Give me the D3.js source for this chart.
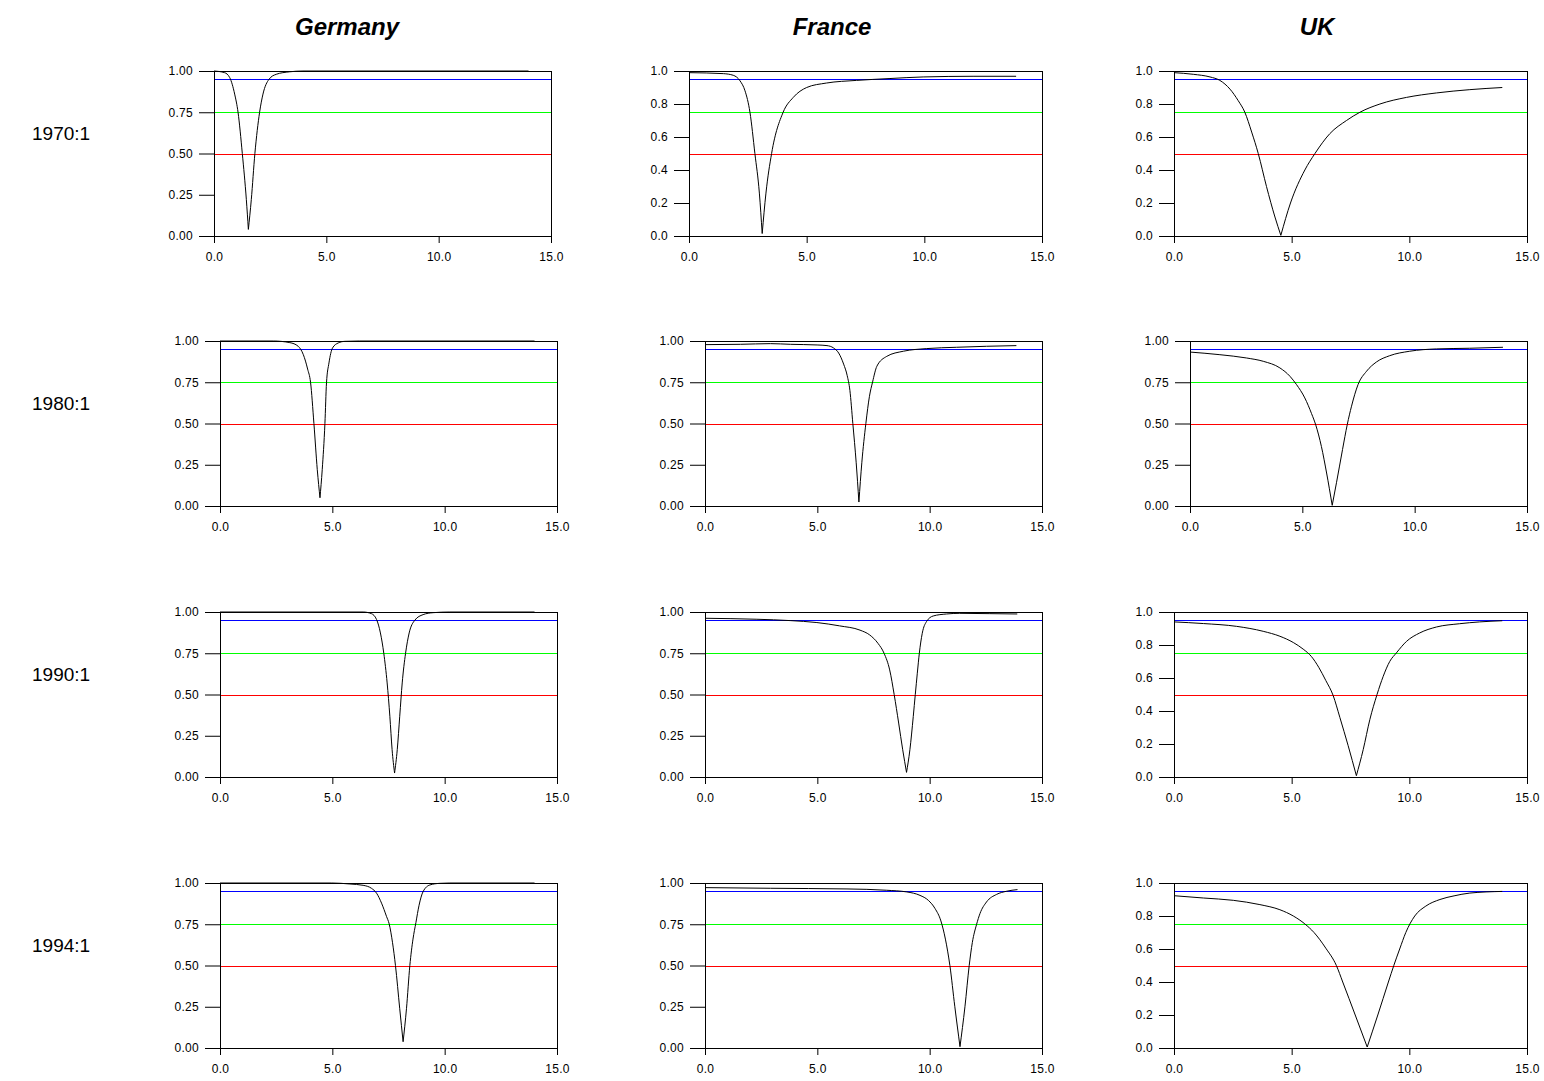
<!DOCTYPE html>
<html lang="en">

<head>
    <meta charset="utf-8" />
    <title>Bandwidth panels</title>
    <script type="text/javascript" src="https://cdn.jsdelivr.net/npm/d3@7"></script>
    <style type="text/css">
        body {
            margin: 0;
            background: white;
        }
        svg text {
            font-family: "Liberation Sans", Arial, sans-serif;
        }
    </style>
</head>

<body>
    <script type="text/javascript">
        var countries = ["Germany", "France", "UK"];
        var periods = ["1970:1", "1980:1", "1990:1", "1994:1"];
        var xTicks = [0, 5, 10, 15];
        var yTicksQuarter = [0, 0.25, 0.5, 0.75, 1];
        var yTicksFifth = [0, 0.2, 0.4, 0.6, 0.8, 1];
        var thresholds = [0.95, 0.75, 0.5];
        var thresholdColors = ["#0000ff", "#00ff00", "#ff0000"];
        // decimals of the y tick labels, row by row
        var yDecimals = [
            [2, 1, 1],
            [2, 2, 2],
            [2, 2, 1],
            [2, 2, 1]
        ];

        // curves: [x, value]
        var de1970 = [[0, 1.0], [0.47, 0.99], [0.7, 0.96], [0.92, 0.86], [1.07, 0.75], [1.26, 0.5], [1.44, 0.22], [1.53, 0.04],
            [1.66, 0.22], [1.82, 0.5], [2.03, 0.75], [2.18, 0.86], [2.45, 0.95], [2.77, 0.98], [3.36, 0.995], [3.96, 1.0], [14, 1.0]];
        var fr1970 = [[0, 0.99], [1.46, 0.984], [1.88, 0.974], [2.17, 0.94], [2.38, 0.88], [2.59, 0.75], [2.8, 0.5], [2.99, 0.26], [3.11, 0.015],
            [3.27, 0.26], [3.51, 0.5], [4.0, 0.75], [4.43, 0.84], [5.0, 0.9], [5.84, 0.927], [7.12, 0.943], [8.5, 0.954], [9.95, 0.964], [12.07, 0.968], [13.9, 0.968]];
        var uk1970 = [[0, 0.99], [0.82, 0.98], [1.53, 0.964], [1.95, 0.943], [2.38, 0.89], [2.73, 0.82], [3.01, 0.75], [3.3, 0.63], [3.58, 0.5], [3.93, 0.3], [4.29, 0.115], [4.54, 0.004],
            [4.95, 0.2], [5.56, 0.4], [5.99, 0.5], [6.62, 0.62], [7.33, 0.7], [7.9, 0.75], [8.75, 0.8], [9.88, 0.84], [11.15, 0.867], [12.57, 0.887], [13.95, 0.9]];

        var de1980 = [[0, 1.0], [2.37, 1.0], [3.11, 0.99], [3.48, 0.968], [3.71, 0.917], [3.9, 0.83], [4.03, 0.75], [4.18, 0.5], [4.33, 0.22], [4.45, 0.05],
            [4.55, 0.22], [4.67, 0.5], [4.74, 0.746], [4.85, 0.867], [5.01, 0.958], [5.26, 0.988], [5.56, 0.998], [6.2, 1.0], [14, 1.0]];
        var fr1980 = [[0, 0.978], [1.58, 0.98], [2.91, 0.984], [3.8, 0.98], [4.99, 0.976], [5.43, 0.972], [5.72, 0.958], [5.95, 0.927], [6.17, 0.86], [6.33, 0.79], [6.45, 0.7], [6.58, 0.5], [6.73, 0.262], [6.85, 0.024],
            [6.98, 0.262], [7.16, 0.5], [7.32, 0.665], [7.46, 0.752], [7.65, 0.847], [8.09, 0.907], [8.83, 0.938], [9.87, 0.954], [11.2, 0.962], [12.53, 0.968], [13.86, 0.972]];
        var uk1980 = [[0, 0.933], [1.33, 0.917], [2.52, 0.897], [3.26, 0.877], [4.0, 0.837], [4.45, 0.786], [4.74, 0.736], [5.11, 0.655], [5.41, 0.56], [5.6, 0.49], [5.85, 0.36], [6.08, 0.2], [6.33, 0.004],
            [6.52, 0.141], [6.79, 0.343], [7.0, 0.494], [7.19, 0.605], [7.48, 0.736], [7.86, 0.817], [8.3, 0.873], [8.89, 0.911], [9.78, 0.938], [10.97, 0.952], [12.45, 0.956], [13.93, 0.962]];

        var de1990 = [[0, 1.0], [6.37, 1.0], [6.74, 0.99], [6.97, 0.954], [7.14, 0.873], [7.29, 0.75], [7.44, 0.57], [7.56, 0.368], [7.66, 0.166], [7.77, 0.024],
            [7.89, 0.166], [8.0, 0.368], [8.11, 0.57], [8.26, 0.75], [8.42, 0.873], [8.67, 0.95], [9.04, 0.984], [9.49, 0.996], [10.23, 1.0], [14, 1.0]];
        var fr1990 = [[0, 0.962], [2.31, 0.956], [3.79, 0.948], [4.98, 0.936], [5.99, 0.916], [6.9, 0.89], [7.33, 0.861], [7.7, 0.81], [7.97, 0.75], [8.22, 0.649], [8.42, 0.5], [8.62, 0.327], [8.8, 0.165], [8.97, 0.028],
            [9.12, 0.165], [9.27, 0.367], [9.36, 0.5], [9.45, 0.629], [9.54, 0.75], [9.67, 0.871], [9.86, 0.942], [10.16, 0.976], [10.75, 0.988], [11.34, 0.992], [12.68, 0.99], [13.9, 0.988]];
        var uk1990 = [[0, 0.94], [1.25, 0.93], [2.66, 0.913], [3.79, 0.883], [4.5, 0.853], [5.07, 0.815], [5.49, 0.775], [5.84, 0.73], [6.15, 0.665], [6.45, 0.585], [6.76, 0.495], [7.05, 0.36], [7.4, 0.19], [7.75, 0.008],
            [8.04, 0.166], [8.32, 0.347], [8.63, 0.501], [8.89, 0.61], [9.17, 0.701], [9.45, 0.752], [9.88, 0.822], [10.44, 0.873], [11.15, 0.909], [12.14, 0.929], [12.99, 0.94], [13.95, 0.947]];

        var de1994 = [[0, 1.0], [4.97, 1.0], [5.78, 0.994], [6.37, 0.986], [6.74, 0.968], [6.97, 0.938], [7.19, 0.878], [7.41, 0.798], [7.53, 0.752], [7.68, 0.638], [7.81, 0.5], [8.0, 0.238], [8.15, 0.038],
            [8.3, 0.238], [8.45, 0.5], [8.59, 0.66], [8.72, 0.76], [8.86, 0.865], [9.04, 0.948], [9.34, 0.988], [9.78, 0.998], [10.23, 1.0], [14, 1.0]];
        var fr1994 = [[0, 0.972], [2.91, 0.968], [6.32, 0.964], [8.09, 0.956], [8.98, 0.946], [9.57, 0.925], [9.94, 0.895], [10.24, 0.845], [10.5, 0.77], [10.7, 0.66], [10.9, 0.5], [11.12, 0.25], [11.35, 0.008],
            [11.57, 0.25], [11.76, 0.5], [11.9, 0.64], [12.09, 0.75], [12.24, 0.815], [12.53, 0.885], [12.98, 0.931], [13.42, 0.95], [13.91, 0.96]];
        var uk1994 = [[0, 0.923], [1.25, 0.909], [2.52, 0.895], [3.65, 0.869], [4.5, 0.838], [5.07, 0.8], [5.56, 0.752], [5.95, 0.7], [6.45, 0.605], [6.9, 0.5], [7.17, 0.4], [7.7, 0.2], [8.21, 0.006],
            [8.66, 0.2], [9.11, 0.4], [9.34, 0.5], [9.59, 0.6], [9.85, 0.7], [10.23, 0.8], [10.7, 0.86], [11.3, 0.9], [11.9, 0.922], [12.57, 0.939], [13.95, 0.949]];

        var curves = [
            [de1970, fr1970, uk1970],
            [de1980, fr1980, uk1980],
            [de1990, fr1990, uk1990],
            [de1994, fr1994, uk1994]
        ];

        // page layout
        var w = 1544;
        var h = 1081;
        var colRight = [557, 1042, 1527];
        var rowTop = [71, 341, 612, 883];
        var plotH = 165;

        var svg = d3
            .select("body")
            .append("svg")
            .attr("width", w)
            .attr("height", h);

        // column titles
        svg.selectAll("text.col")
            .data(countries)
            .enter()
            .append("text")
            .attr("class", "col")
            .attr("x", function(d, i) {
                return colRight[i] - 210;
            })
            .attr("y", 34.5)
            .attr("text-anchor", "middle")
            .attr("font-size", "24px")
            .attr("font-weight", "bold")
            .attr("font-style", "italic")
            .text(function(d) {
                return d;
            });

        // row labels
        svg.selectAll("text.row")
            .data(periods)
            .enter()
            .append("text")
            .attr("class", "row")
            .attr("x", 32)
            .attr("y", function(d, i) {
                return rowTop[i] + 68.5;
            })
            .attr("font-size", "19px")
            .text(function(d) {
                return d;
            });

        for (var r = 0; r < periods.length; r++) {
            for (var c = 0; c < countries.length; c++) {
                var dec = yDecimals[r][c];
                var pw = dec == 2 ? 337 : 353;
                var right = colRight[c];
                // first German panel sits a bit further left
                if (r == 0 && c == 0) right -= 6;
                var left = right - pw;

                var xScale = d3.scaleLinear().domain([0, 15]).range([0, pw]);
                var yScale = d3.scaleLinear().domain([0, 1]).range([plotH, 0]);

                var g = svg.append("g")
                    .attr("transform", "translate(" + left + "," + rowTop[r] + ")");

                // threshold lines
                g.selectAll("line.thr")
                    .data(thresholds)
                    .enter()
                    .append("line")
                    .attr("class", "thr")
                    .attr("x1", 0)
                    .attr("x2", pw)
                    .attr("y1", function(d) {
                        return Math.round(yScale(d)) + 0.5;
                    })
                    .attr("y2", function(d) {
                        return Math.round(yScale(d)) + 0.5;
                    })
                    .style("stroke", function(d, i) {
                        return thresholdColors[i];
                    })
                    .attr("stroke-width", 1);

                // frame
                g.append("rect")
                    .attr("x", 0.5)
                    .attr("y", 0.5)
                    .attr("width", pw)
                    .attr("height", plotH)
                    .attr("fill", "none")
                    .attr("stroke", "black")
                    .attr("stroke-width", 1);

                var yAxis = d3.axisLeft(yScale)
                    .tickValues(dec == 2 ? yTicksQuarter : yTicksFifth)
                    .tickFormat(d3.format("." + dec + "f"))
                    .tickSize(15)
                    .tickSizeOuter(0)
                    .tickPadding(6);
                g.append("g").call(yAxis);

                var xAxis = d3.axisBottom(xScale)
                    .tickValues(xTicks)
                    .tickFormat(d3.format(".1f"))
                    .tickSize(7)
                    .tickSizeOuter(0)
                    .tickPadding(9);
                g.append("g")
                    .attr("transform", "translate(0," + plotH + ")")
                    .call(xAxis);

                g.selectAll(".tick text")
                    .attr("font-size", "12px")
                    .attr("font-family", null)
                    .attr("letter-spacing", "0.3px")
                    .attr("fill", "black");

                // the curve, drawn as two smooth halves so the dip stays sharp
                var pts = curves[r][c];
                var iMin = d3.minIndex(pts, function(d) {
                    return d[1];
                });
                var line = d3.line()
                    .x(function(d) {
                        return xScale(d[0]);
                    })
                    .y(function(d) {
                        return yScale(d[1]);
                    })
                    .curve(d3.curveMonotoneX);
                g.selectAll("path.curve")
                    .data([pts.slice(0, iMin + 1), pts.slice(iMin)])
                    .enter()
                    .append("path")
                    .attr("class", "curve")
                    .attr("d", line)
                    .attr("fill", "none")
                    .attr("stroke", "black")
                    .attr("stroke-width", 1);
            }
        }
    </script>
</body>

</html>
